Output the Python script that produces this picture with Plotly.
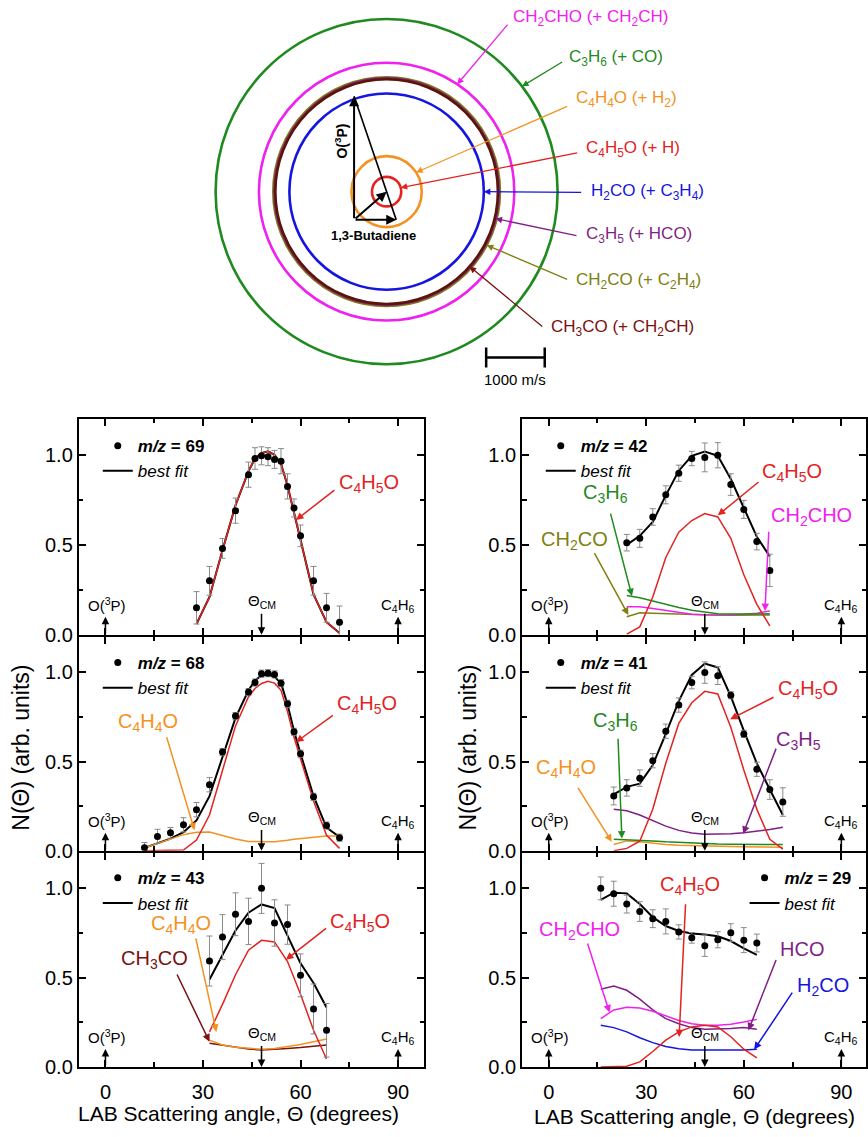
import math
import plotly.graph_objects as go

FONT = "Liberation Sans, Arial, sans-serif"
W, H = 868, 1137


def pxx(x):
    return x / W


def pxy(y):
    return 1 - y / H


# ---------------- Newton diagram data (m/s, centre-of-mass frame) ----------------
ring_keys = ["CH2CO", "C3H5", "CH3CO", "CH2CHO", "C3H6", "H2CO", "C4H4O", "C4H5O"]
ring_radius = [1935, 1915, 1900, 2180, 2920, 1660, 600, 250]
ring_labels = {
    "CH2CHO": "CH<sub>2</sub>CHO (+ CH<sub>2</sub>CH)",
    "C3H6": "C<sub>3</sub>H<sub>6</sub> (+ CO)",
    "C4H4O": "C<sub>4</sub>H<sub>4</sub>O (+ H<sub>2</sub>)",
    "C4H5O": "C<sub>4</sub>H<sub>5</sub>O (+ H)",
    "H2CO": "H<sub>2</sub>CO (+ C<sub>3</sub>H<sub>4</sub>)",
    "C3H5": "C<sub>3</sub>H<sub>5</sub> (+ HCO)",
    "CH2CO": "CH<sub>2</sub>CO (+ C<sub>2</sub>H<sub>4</sub>)",
    "CH3CO": "CH<sub>3</sub>CO (+ CH<sub>2</sub>CH)",
}
label_order = ["CH2CHO", "C3H6", "C4H4O", "C4H5O", "H2CO", "C3H5", "CH2CO", "CH3CO"]
beam_speed_O = 2090      # m/s
beam_speed_C4H6 = 720    # m/s
mass_O = 16
mass_C4H6 = 54
scale_bar_ms = 1000

# ---------------- Laboratory angular distributions ----------------
# m/z = 69
ang69 = [28, 32, 36, 40, 44, 46, 48, 50, 52, 54, 56, 58, 60, 64, 68, 72]
pts69 = [0.15, 0.30, 0.48, 0.69, 0.89, 0.98, 0.995, 0.99, 0.975, 0.965, 0.825, 0.705, 0.55, 0.30, 0.15, 0.07]
err69 = [0.09, 0.08, 0.055, 0.07, 0.07, 0.06, 0.05, 0.05, 0.05, 0.07, 0.07, 0.05, 0.06, 0.08, 0.08, 0.09]
fit69 = [0.06, 0.21, 0.47, 0.72, 0.91, 0.98, 1.01, 1.02, 1.0, 0.95, 0.83, 0.68, 0.52, 0.225, 0.07, 0.01]
c4h5o69 = [0.06, 0.21, 0.47, 0.72, 0.91, 0.98, 1.01, 1.02, 1.0, 0.95, 0.83, 0.68, 0.52, 0.225, 0.07, 0.01]

# m/z = 68
ang68 = [12, 16, 20, 24, 28, 32, 36, 40, 44, 46, 48, 50, 52, 54, 56, 58, 60, 64, 68, 72]
pts68 = [0.016, 0.08, 0.10, 0.145, 0.23, 0.37, 0.553, 0.755, 0.89, 0.943, 0.993, 0.996, 0.989, 0.94, 0.824, 0.667, 0.544, 0.302, 0.141, 0.073]
err68 = [0.03, 0.04, 0.03, 0.04, 0.04, 0.04, 0.02, 0.02, 0.02, 0.02, 0.02, 0.02, 0.02, 0.02, 0.02, 0.02, 0.02, 0.02, 0.02, 0.02]
fit68 = [0.016, 0.04, 0.068, 0.104, 0.17, 0.306, 0.526, 0.745, 0.90, 0.955, 0.983, 0.987, 0.975, 0.94, 0.82, 0.672, 0.544, 0.306, 0.13, 0.077]
c4h5o68 = [0.0, 0.0, 0.0, 0.004, 0.06, 0.20, 0.45, 0.70, 0.864, 0.91, 0.938, 0.95, 0.94, 0.90, 0.78, 0.636, 0.516, 0.278, 0.086, 0.013]
c4h4o68 = [0.016, 0.04, 0.068, 0.09, 0.104, 0.105, 0.085, 0.066, 0.052, 0.05, 0.05, 0.05, 0.05, 0.052, 0.058, 0.064, 0.068, 0.077, 0.082, 0.082]

# m/z = 43
ang43 = [32, 36, 40, 44, 48, 52, 56, 60, 64, 68]
pts43 = [0.593, 0.727, 0.855, 0.815, 1.0, 0.806, 0.797, 0.513, 0.324, 0.205]
err43 = [0.14, 0.126, 0.12, 0.13, 0.14, 0.13, 0.11, 0.12, 0.14, 0.15]
fit43 = [0.489, 0.626, 0.764, 0.864, 0.91, 0.89, 0.736, 0.58, 0.47, 0.333]
c4h5o43 = [0.196, 0.35, 0.516, 0.654, 0.709, 0.70, 0.59, 0.407, 0.205, 0.044]
c4h4o43 = [0.15, 0.123, 0.11, 0.103, 0.099, 0.103, 0.114, 0.125, 0.141, 0.156]
ch3co43 = [0.132, 0.12, 0.11, 0.10, 0.095, 0.097, 0.103, 0.108, 0.114, 0.123]

# m/z = 42
ang42 = [24, 28, 32, 36, 40, 44, 48, 52, 56, 60, 64, 68]
pts42 = [0.512, 0.536, 0.655, 0.778, 0.898, 0.98, 0.986, 0.998, 0.835, 0.697, 0.518, 0.358]
err42 = [0.046, 0.05, 0.046, 0.05, 0.045, 0.04, 0.08, 0.07, 0.06, 0.05, 0.046, 0.09]
fit42 = [0.50, 0.55, 0.628, 0.775, 0.912, 0.995, 1.019, 0.995, 0.866, 0.71, 0.545, 0.435]
c4h5o42 = [0.004, 0.044, 0.21, 0.43, 0.57, 0.635, 0.674, 0.655, 0.536, 0.334, 0.169, 0.05]
c3h6_42 = [0.218, 0.206, 0.188, 0.169, 0.152, 0.136, 0.125, 0.117, 0.115, 0.114, 0.115, 0.117]
ch2cho42 = [0.156, 0.156, 0.146, 0.136, 0.125, 0.114, 0.111, 0.11, 0.11, 0.114, 0.12, 0.132]
ch2co42 = [0.10, 0.123, 0.12, 0.117, 0.113, 0.11, 0.109, 0.108, 0.108, 0.108, 0.109, 0.11]

# m/z = 41
ang41 = [20, 24, 28, 32, 36, 40, 44, 48, 52, 56, 60, 64, 68, 72]
pts41 = [0.307, 0.352, 0.407, 0.505, 0.67, 0.817, 0.943, 0.999, 0.982, 0.872, 0.655, 0.457, 0.343, 0.273]
err41 = [0.05, 0.046, 0.046, 0.04, 0.04, 0.04, 0.035, 0.06, 0.05, 0.02, 0.02, 0.04, 0.055, 0.08]
fit41 = [0.316, 0.358, 0.376, 0.481, 0.655, 0.839, 0.986, 1.05, 1.028, 0.866, 0.674, 0.49, 0.343, 0.20]
c4h5o41 = [0.0, 0.013, 0.053, 0.233, 0.49, 0.714, 0.83, 0.894, 0.879, 0.692, 0.453, 0.233, 0.064, 0.009]
c3h5_41 = [0.233, 0.224, 0.20, 0.169, 0.138, 0.114, 0.099, 0.092, 0.092, 0.095, 0.10, 0.108, 0.119, 0.132]
c3h6_41 = [0.064, 0.062, 0.059, 0.055, 0.05, 0.046, 0.042, 0.04, 0.037, 0.036, 0.035, 0.035, 0.035, 0.035]
c4h4o41 = [0.035, 0.055, 0.05, 0.042, 0.035, 0.031, 0.028, 0.026, 0.024, 0.023, 0.022, 0.021, 0.02, 0.02]

# m/z = 29
ang29 = [16, 20, 24, 28, 32, 36, 40, 44, 48, 52, 56, 60, 64]
pts29 = [1.0, 0.97, 0.912, 0.87, 0.83, 0.815, 0.756, 0.723, 0.679, 0.712, 0.752, 0.71, 0.694]
err29 = [0.064, 0.07, 0.05, 0.055, 0.05, 0.07, 0.04, 0.03, 0.06, 0.045, 0.05, 0.07, 0.05]
fit29 = [0.936, 0.976, 0.972, 0.912, 0.839, 0.789, 0.761, 0.747, 0.741, 0.732, 0.705, 0.664, 0.628]
ch2cho29 = [0.27, 0.319, 0.334, 0.33, 0.312, 0.284, 0.26, 0.242, 0.233, 0.233, 0.239, 0.251, 0.266]
hco29 = [0.435, 0.453, 0.429, 0.38, 0.319, 0.27, 0.242, 0.22, 0.211, 0.211, 0.215, 0.22, 0.211]
h2co29 = [0.233, 0.22, 0.196, 0.163, 0.136, 0.114, 0.101, 0.095, 0.094, 0.094, 0.095, 0.095, 0.099]
c4h5o29 = [0.0, 0.0, 0.004, 0.028, 0.086, 0.15, 0.196, 0.224, 0.233, 0.224, 0.169, 0.099, 0.05]

theta_cm = 48
x_ticks = [0, 30, 60, 90]

# ---------------- styles ----------------
COL = {
    "red": "#e2231f", "orange": "#f39221", "green": "#1f8a1f", "olive": "#808010",
    "magenta": "#ee22ee", "purple": "#7f1f85", "blue": "#1515e0", "darkred": "#7a1010",
    "brown": "#5c1408",
}
ring_colors = {"CH2CO": COL["olive"], "C3H5": COL["purple"], "CH3CO": COL["brown"],
               "CH2CHO": COL["magenta"], "C3H6": COL["green"], "H2CO": COL["blue"],
               "C4H4O": COL["orange"], "C4H5O": COL["red"]}
label_colors = dict(ring_colors)
label_colors["CH3CO"] = COL["darkred"]

SUB = {
    "C4H5O": "C<sub>4</sub>H<sub>5</sub>O", "C4H4O": "C<sub>4</sub>H<sub>4</sub>O",
    "CH3CO": "CH<sub>3</sub>CO", "C3H6": "C<sub>3</sub>H<sub>6</sub>",
    "CH2CO": "CH<sub>2</sub>CO", "CH2CHO": "CH<sub>2</sub>CHO", "C3H5": "C<sub>3</sub>H<sub>5</sub>",
    "HCO": "HCO", "H2CO": "H<sub>2</sub>CO",
}

panels = [
    dict(ax="", mz="69", ang=ang69, pts=pts69, err=err69, fit=fit69,
         comps=[("C4H5O", c4h5o69, "red")]),
    dict(ax="2", mz="68", ang=ang68, pts=pts68, err=err68, fit=fit68,
         comps=[("C4H4O", c4h4o68, "orange"), ("C4H5O", c4h5o68, "red")]),
    dict(ax="3", mz="43", ang=ang43, pts=pts43, err=err43, fit=fit43,
         comps=[("CH3CO", ch3co43, "darkred"), ("C4H4O", c4h4o43, "orange"), ("C4H5O", c4h5o43, "red")]),
    dict(ax="4", mz="42", ang=ang42, pts=pts42, err=err42, fit=fit42,
         comps=[("CH2CO", ch2co42, "olive"), ("CH2CHO", ch2cho42, "magenta"), ("C3H6", c3h6_42, "green"), ("C4H5O", c4h5o42, "red")]),
    dict(ax="5", mz="41", ang=ang41, pts=pts41, err=err41, fit=fit41,
         comps=[("C4H4O", c4h4o41, "orange"), ("C3H6", c3h6_41, "green"), ("C3H5", c3h5_41, "purple"), ("C4H5O", c4h5o41, "red")]),
    dict(ax="6", mz="29", ang=ang29, pts=pts29, err=err29, fit=fit29,
         comps=[("H2CO", h2co29, "blue"), ("HCO", hco29, "purple"), ("CH2CHO", ch2cho29, "magenta"), ("C4H5O", c4h5o29, "red")]),
]

# layout geometry (pixels)
LW = 2
LEFT_X = (79, 425)
RIGHT_X = (523.3, 868)
ROWS = [(423, 641), (641 + LW, 859), (859 + LW, 1077.3)]
XR_LEFT = [-8.19, 97.98]
XR_RIGHT = [-8.19, 97.58]
panel_geom = [
    (LEFT_X, ROWS[0], XR_LEFT, False), (LEFT_X, ROWS[1], XR_LEFT, False), (LEFT_X, ROWS[2], XR_LEFT, True),
    (RIGHT_X, ROWS[0], XR_RIGHT, False), (RIGHT_X, ROWS[1], XR_RIGHT, False), (RIGHT_X, ROWS[2], XR_RIGHT, True),
]
legend_pos = [(115, 444.3), (115, 663.3), (115, 880.7), (559, 444.3), (559, 663.3), (763.3, 880.7)]

# species annotations: (key, text centre, arrow tail, arrow head) in data coords
species_notes = [
    [("C4H5O", (81.1, 0.842), (70.9, 0.811), (58.6, 0.638))],
    [("C4H5O", (80.3, 0.82), (70.4, 0.765), (58.6, 0.609)),
     ("C4H4O", (13.0, 0.72), (18.7, 0.645), (27.4, 0.114))],
    [("C4H4O", (23.3, 0.80), (27.7, 0.728), (34.1, 0.196)),
     ("CH3CO", (15.1, 0.601), (21.8, 0.526), (32.0, 0.141)),
     ("C4H5O", (78.3, 0.81), (68.3, 0.783), (55.5, 0.60))],
    [("C4H5O", (74.9, 0.90), (65.0, 0.856), (52.0, 0.664)),
     ("C3H6", (17.6, 0.785), (18.9, 0.682), (25.6, 0.215)),
     ("CH2CO", (8.0, 0.526), (13.8, 0.462), (24.5, 0.11)),
     ("CH2CHO", (80.7, 0.655), (67.7, 0.581), (66.5, 0.132))],
    [("C4H5O", (79.8, 0.902), (69.6, 0.865), (55.8, 0.737)),
     ("C3H5", (76.7, 0.618), (70.1, 0.581), (59.8, 0.095)),
     ("C3H6", (20.5, 0.726), (21.3, 0.636), (22.5, 0.068)),
     ("C4H4O", (5.2, 0.462), (8.7, 0.361), (19.4, 0.05))],
    [("C4H5O", (43.4, 1.018), (42.1, 0.919), (40.1, 0.167)),
     ("CH2CHO", (9.5, 0.765), (11.8, 0.699), (18.7, 0.304)),
     ("HCO", (77.8, 0.662), (70.1, 0.607), (61.4, 0.204)),
     ("H2CO", (84.4, 0.451), (75.2, 0.424), (63.2, 0.097))],
]
note_color = {"C4H5O": "red", "C4H4O": "orange", "CH3CO": "darkred", "C3H6": "green",
              "CH2CO": "olive", "CH2CHO": "magenta", "C3H5": "purple", "HCO": "purple", "H2CO": "blue"}

fig = go.Figure()
annotations = []
shapes = []
layout = dict(
    width=W, height=H, margin=dict(l=0, r=0, t=0, b=0), autosize=False,
    paper_bgcolor="white", plot_bgcolor="white",
    font=dict(family=FONT, color="black"),
)


def text_note(xr, yr, x, y, text, size, color="black", **kw):
    d = dict(xref=xr, yref=yr, x=x, y=y, text=text, showarrow=False, xanchor="center",
             yanchor="middle", font=dict(size=size, family=FONT, color=color))
    d.update(kw)
    return d


def arrow(xr, yr, head, tail, color, width=1.5, size=1.0):
    return dict(xref=xr, yref=yr, axref=xr, ayref=yr, x=head[0], y=head[1],
                ax=tail[0], ay=tail[1], text="", showarrow=True, arrowhead=2,
                arrowsize=size, arrowwidth=width, arrowcolor=color)


for i, p in enumerate(panels):
    sfx = p["ax"]
    xa, ya = "x" + sfx, "y" + sfx
    leg = "legend" + sfx
    (xd, yd, xr, showx) = panel_geom[i]
    fig.add_trace(go.Scatter(x=p["ang"], y=p["fit"], mode="lines", xaxis=xa, yaxis=ya,
                             line=dict(color="black", width=2), name="<i>best fit</i>",
                             legend=leg, legendrank=2, showlegend=True))
    for key, vals, c in p["comps"]:
        fig.add_trace(go.Scatter(x=p["ang"], y=vals, mode="lines", xaxis=xa, yaxis=ya,
                                 line=dict(color=COL[c], width=1.5), showlegend=False, name=key))
    fig.add_trace(go.Scatter(x=p["ang"], y=p["pts"], mode="markers", xaxis=xa, yaxis=ya,
                             marker=dict(color="black", size=7),
                             error_y=dict(type="data", array=p["err"], color="#8a8a8a", thickness=1, width=3),
                             name="<b><i>m/z</i> = %s</b>" % p["mz"], legend=leg, legendrank=1,
                             showlegend=True))
    common = dict(showgrid=False, zeroline=False, showline=True, linecolor="black", linewidth=LW,
                  mirror="ticks", ticks="inside", ticklen=7, tickwidth=1.5, tickcolor="black",
                  tickfont=dict(family=FONT, size=20, color="black"))
    layout["xaxis" + sfx] = dict(common, domain=[pxx(xd[0]), pxx(xd[1])], range=xr, anchor=ya,
                                 tickvals=x_ticks, showticklabels=showx, ticklabelstandoff=6,
                                 minor=dict(dtick=15, tick0=0, ticks="inside", ticklen=4.5, tickwidth=1.5,
                                            tickcolor="black", showgrid=False))
    layout["yaxis" + sfx] = dict(common, domain=[pxy(yd[1]), pxy(yd[0])], range=[0, 1.2], anchor=xa,
                                 dtick=0.5, tick0=0, tickformat=".1f",
                                 minor=dict(dtick=0.25, tick0=0, ticks="inside", ticklen=4.5, tickwidth=1.5,
                                            tickcolor="black", showgrid=False))
    lx, ly = legend_pos[i]
    layout[leg] = dict(x=pxx(lx - 17), y=pxy(ly - 12), xanchor="left", yanchor="top",
                       bgcolor="rgba(0,0,0,0)", borderwidth=0, traceorder="normal",
                       font=dict(family=FONT, size=17, color="black"), tracegroupgap=0)

    # beam / CM markers
    annotations.append(text_note(xa, ya, 0.5, 0.17, "O(<sup>3</sup>P)", 15))
    annotations.append(arrow(xa, ya, (0, 0.1), (0, 0.0), "black", 1.5))
    annotations.append(text_note(xa, ya, 90, 0.165, "C<sub>4</sub>H<sub>6</sub>", 15))
    annotations.append(arrow(xa, ya, (90, 0.1), (90, 0.0), "black", 1.5))
    annotations.append(text_note(xa, ya, theta_cm, 0.185, "\u0398<sub>CM</sub>", 15))
    annotations.append(arrow(xa, ya, (theta_cm, 0.0), (theta_cm, 0.125), "black", 1.5))

    for key, tc, tail, head in species_notes[i]:
        c = COL[note_color[key]]
        annotations.append(text_note(xa, ya, tc[0], tc[1], SUB[key], 20, c))
        annotations.append(arrow(xa, ya, head, tail, c, 1.5))

# axis titles
annotations.append(text_note("paper", "paper", pxx(239), pxy(1124),
                             "LAB Scattering angle, \u0398 (degrees)", 21))
annotations.append(text_note("paper", "paper", pxx(696), pxy(1127),
                             "LAB Scattering angle, \u0398 (degrees)", 21))
for xc in (21, 469):
    annotations.append(text_note("paper", "paper", pxx(xc), pxy(755), "N(\u0398) (arb. units)", 23,
                                 textangle=-90))

# ---------------- Newton diagram ----------------
NX = [200, 868]
NY = [0, 390]
CX, CY = 387.5, 193.5
SX, SY = 0.0587, 0.0597  # px per m/s
layout["xaxis7"] = dict(domain=[pxx(NX[0]), pxx(NX[1])], range=[(NX[0] - CX) / SX, (NX[1] - CX) / SX],
                        visible=False, anchor="y7", fixedrange=True)
layout["yaxis7"] = dict(domain=[pxy(NY[1]), pxy(NY[0])], range=[(CY - NY[1]) / SY, (CY - NY[0]) / SY],
                        visible=False, anchor="x7", fixedrange=True)
fig.add_trace(go.Scatter(x=[0], y=[0], xaxis="x7", yaxis="y7", mode="markers",
                         marker=dict(size=1, color="rgba(0,0,0,0)"), showlegend=False, hoverinfo="skip"))

for key, r in zip(ring_keys, ring_radius):
    shapes.append(dict(type="circle", xref="x7", yref="y7", x0=-r, x1=r, y0=-r, y1=r,
                       line=dict(color=ring_colors[key], width=2.6)))

# beam vectors (CM at origin)
M = mass_O + mass_C4H6
cm_x = mass_C4H6 * beam_speed_C4H6 / M
cm_y = mass_O * beam_speed_O / M
orig = (-cm_x, -cm_y)
o_tip = (orig[0], orig[1] + beam_speed_O)
b_tip = (orig[0] + beam_speed_C4H6, orig[1])
shapes.append(dict(type="line", xref="x7", yref="y7", x0=o_tip[0], y0=o_tip[1], x1=b_tip[0], y1=b_tip[1],
                   line=dict(color="black", width=1.6)))
annotations.append(arrow("x7", "y7", o_tip, orig, "black", 2.0, 1.0))
annotations.append(arrow("x7", "y7", b_tip, orig, "black", 2.0, 1.0))
annotations.append(arrow("x7", "y7", (0, 0), orig, "black", 2.0, 1.0))
annotations.append(text_note("x7", "y7", (341.7 - CX) / SX, (CY - 142) / SY, "<b>O(<sup>3</sup>P)</b>", 14,
                             textangle=-90))
annotations.append(text_note("x7", "y7", (374 - CX) / SX, (CY - 238.3) / SY, "<b>1,3-Butadiene</b>", 13))

# scale bar
sb_x0 = 1700
sb_y = (CY - 361) / SY
shapes.append(dict(type="line", xref="x7", yref="y7", x0=sb_x0, x1=sb_x0 + scale_bar_ms, y0=sb_y, y1=sb_y,
                   line=dict(color="black", width=2.5)))
for xx in (sb_x0, sb_x0 + scale_bar_ms):
    shapes.append(dict(type="line", xref="x7", yref="y7", x0=xx, x1=xx, y0=sb_y - 168, y1=sb_y + 168,
                       line=dict(color="black", width=2.5)))
annotations.append(text_note("x7", "y7", sb_x0 + scale_bar_ms / 2, (CY - 382.7) / SY, "1000 m/s", 15))

# labels with arrows: (text left px, text y px, tail px, arrow angle deg)
newton_label_layout = {
    "CH2CHO": (511.7, 18.3, (510, 23.3), 56.4),
    "C3H6": (568, 58.3, (565, 61.7), 37.6),
    "C4H4O": (575, 100, (570, 106.7), 32.8),
    "C4H5O": (585, 150, (580, 154), 15.6),
    "H2CO": (590, 194.3, (584, 194.3), 0.0),
    "C3H5": (585, 237.3, (579.3, 238.3), -13.8),
    "CH2CO": (575, 284, (570, 282.7), -27.9),
    "CH3CO": (550, 331.7, (545, 331), -41.8),
}
for key in label_order:
    lxp, lyp, tail, angd = newton_label_layout[key]
    r = ring_radius[ring_keys.index(key)]
    c = label_colors[key]
    annotations.append(text_note("x7", "y7", (lxp - CX) / SX, (CY - lyp) / SY, ring_labels[key], 17, c,
                                 xanchor="left"))
    head = (r * math.cos(math.radians(angd)), r * math.sin(math.radians(angd)))
    annotations.append(arrow("x7", "y7", head, ((tail[0] - CX) / SX, (CY - tail[1]) / SY), c, 1.3))

layout["annotations"] = annotations
layout["shapes"] = shapes
fig.update_layout(**layout)
fig.write_html("out.html")
